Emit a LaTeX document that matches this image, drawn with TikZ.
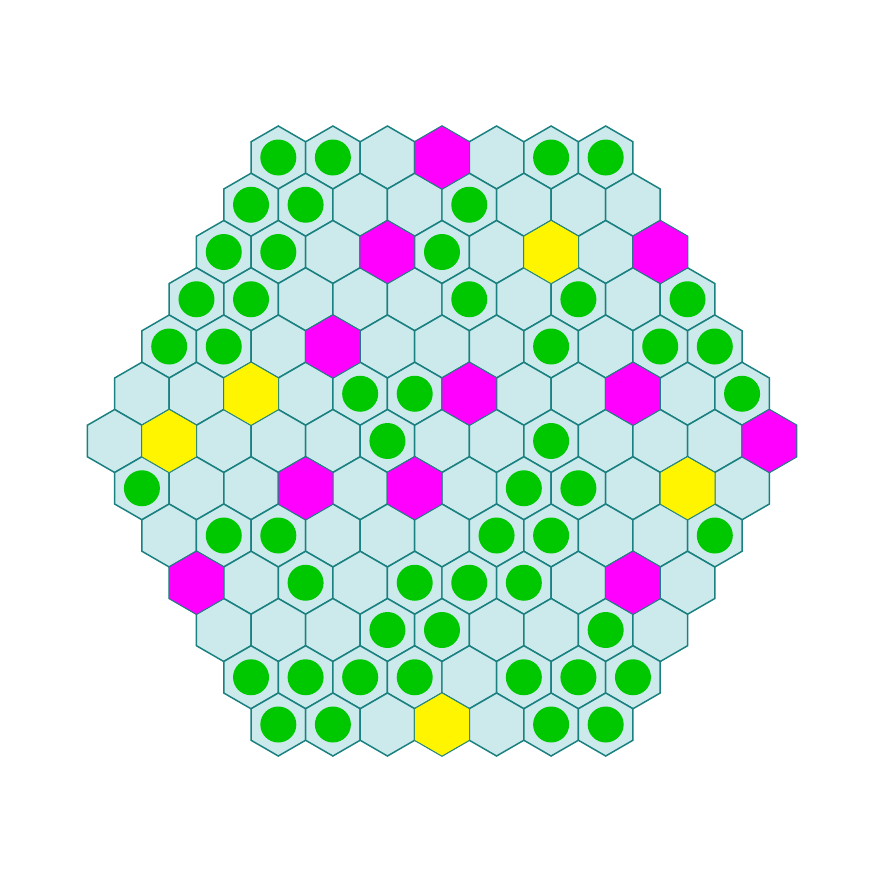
\documentclass[tikz,border=0pt]{standalone}
\definecolor{hexfill}{HTML}{CCEAEC}
\definecolor{hexline}{HTML}{1A8080}
\definecolor{dotgreen}{HTML}{00C800}
\definecolor{fillm}{HTML}{FF00FF}
\definecolor{filly}{HTML}{FFF500}
\tikzset{
  hexcell/.style={draw=hexline, line width=0.85pt, fill=hexfill},
  hexcolored/.style={draw=hexline, line width=0.3pt},
  dot/.style={fill=dotgreen}
}
\def\gridrows{{g,g,e,m,e,g,g},
{g,g,e,e,g,e,e,e},
{g,g,e,m,g,e,y,e,m},
{g,g,e,e,e,g,e,g,e,g},
{g,g,e,m,e,e,e,g,e,g,g},
{e,e,y,e,g,g,m,e,e,m,e,g},
{e,y,e,e,e,g,e,e,g,e,e,e,m},
{g,e,e,m,e,m,e,g,g,e,y,e},
{e,g,g,e,e,e,g,g,e,e,g},
{m,e,g,e,g,g,g,e,m,e},
{e,e,e,g,g,e,e,g,e},
{g,g,g,g,e,g,g,g},
{g,g,e,y,e,g,g}}
\def\codeg{g}
\def\codee{e}
\begin{document}
\begin{tikzpicture}[x=0.02cm,y=-0.02cm]
\useasboundingbox (0,0) rectangle (887,887);
% pass 1: all cells with plain fill, green dots
\foreach \row [count=\i from 0] in \gridrows {
  \pgfmathsetmacro\n{13-abs(\i-6)}
  \foreach \c [count=\j from 0] in \row {
    \pgfmathsetmacro\cx{442+(\j-(\n-1)/2)*54.56}
    \pgfmathsetmacro\cy{441+(\i-6)*47.25}
    \begin{scope}[shift={(\cx,\cy)}]
      \draw[hexcell] (30:31.5) -- (90:31.5) -- (150:31.5) -- (210:31.5) -- (270:31.5) -- (330:31.5) -- cycle;
      \edef\tmp{\c}
      \ifx\tmp\codeg
        \fill[dot] (0,0) circle (18);
      \fi
    \end{scope}
  }
}
% pass 2: coloured cells on top
\foreach \row [count=\i from 0] in \gridrows {
  \pgfmathsetmacro\n{13-abs(\i-6)}
  \foreach \c [count=\j from 0] in \row {
    \pgfmathsetmacro\cx{442+(\j-(\n-1)/2)*54.56}
    \pgfmathsetmacro\cy{441+(\i-6)*47.25}
    \edef\tmp{\c}
    \ifx\tmp\codeg\else\ifx\tmp\codee\else
    \begin{scope}[shift={(\cx,\cy)}]
      \draw[hexcolored, fill=fill\c] (30:31.5) -- (90:31.5) -- (150:31.5) -- (210:31.5) -- (270:31.5) -- (330:31.5) -- cycle;
    \end{scope}
    \fi\fi
  }
}
\end{tikzpicture}
\end{document}
